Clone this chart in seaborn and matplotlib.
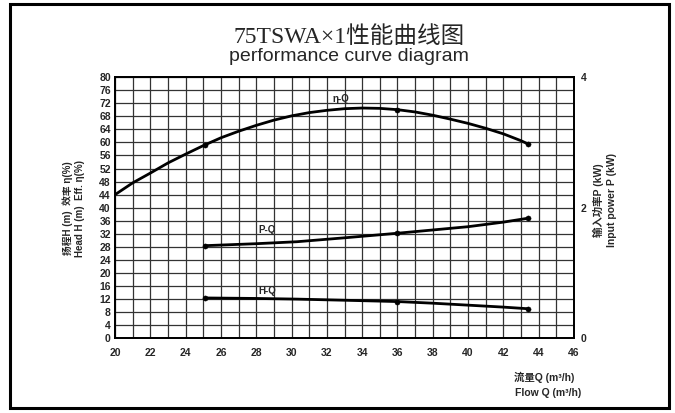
import matplotlib
matplotlib.use("Agg")
import matplotlib.pyplot as plt
import seaborn as sns
from matplotlib.patches import Rectangle

# values
q_eff = [20, 21, 22, 23, 24, 25, 26, 27, 28, 29, 30, 31, 32, 33, 34, 35, 36, 37, 38, 39, 40, 41, 42, 43, 43.4]
eff = [44.0, 47.6, 50.6, 53.7, 56.4, 59.0, 61.4, 63.4, 65.2, 66.8, 68.1, 69.1, 69.8, 70.3, 70.5, 70.4, 70.0, 69.3, 68.3, 67.1, 65.8, 64.3, 62.6, 60.5, 59.5]

q_pts = [25.1, 36, 43.4]
eff_pts = [59.2, 70.0, 59.5]

q_ph = [25.1, 28, 30.3, 33, 36, 38, 40, 42, 43.4]
power = [1.42, 1.45, 1.48, 1.54, 1.61, 1.66, 1.71, 1.78, 1.84]
head = [12.4, 12.25, 12.05, 11.7, 11.3, 10.8, 10.2, 9.6, 9.1]

power_pts = [1.42, 1.61, 1.84]
head_pts = [12.4, 11.3, 9.1]

x_ticks = list(range(20, 47))
x_labels = [str(v) if v % 2 == 0 else '' for v in x_ticks]
y_ticks = list(range(0, 81, 4))
p_ticks = [0, 2, 4]

sns.set_theme(style="white")
plt.rcParams['font.family'] = ['Liberation Sans', 'Noto Sans CJK SC', 'DejaVu Sans']
plt.rcParams['axes.unicode_minus'] = False

fig = plt.figure(figsize=(6.75, 4.13), dpi=100)
ax = fig.add_axes([0.1704, 0.1804, 0.68, 0.6332])
ax2 = ax.twinx()

grid_col = '#333333'
for v in x_ticks:
    ax.axvline(v, color=grid_col, lw=0.9, zorder=0)
for v in y_ticks:
    ax.axhline(v, color=grid_col, lw=0.9, zorder=0)

sns.lineplot(x=q_eff, y=eff, ax=ax, color='black', lw=2.0, sort=False)
sns.scatterplot(x=q_pts, y=eff_pts, ax=ax, color='black', s=14, edgecolor='black', zorder=5)
sns.lineplot(x=q_ph, y=head, ax=ax, color='black', lw=2.0, sort=False)
sns.scatterplot(x=q_pts, y=head_pts, ax=ax, color='black', s=14, edgecolor='black', zorder=5)

sns.lineplot(x=q_ph, y=power, ax=ax2, color='black', lw=2.0, sort=False)
sns.scatterplot(x=q_pts, y=power_pts, ax=ax2, color='black', s=14, edgecolor='black', zorder=5)

ax.set_xlim(20, 46)
ax.set_ylim(0, 80)
ax2.set_ylim(0, 4)
ax.set_xticks(x_ticks)
ax.set_xticklabels(x_labels)
ax.set_yticks(y_ticks)
ax2.set_yticks(p_ticks)
ax.set_xlabel('')
ax.set_ylabel('')
ax2.set_ylabel('')

for a in (ax, ax2):
    a.tick_params(length=0, labelsize=7.5)
    for lab in a.get_xticklabels() + a.get_yticklabels():
        lab.set_fontweight('bold')
    for s in a.spines.values():
        s.set_color('black')
        s.set_linewidth(1.3)
ax.tick_params(axis='y', pad=3)
ax.tick_params(axis='x', pad=7)
ax2.tick_params(axis='y', pad=5)

ax.text(32.8, 73.3, 'η-Q', fontsize=7, fontweight='bold', ha='center', va='center')
ax.text(28.6, 33.2, 'P-Q', fontsize=7, fontweight='bold', ha='center', va='center')
ax.text(28.6, 14.6, 'H-Q', fontsize=7, fontweight='bold', ha='center', va='center')

fig.text(0.517, 0.910, '75TSWA×1性能曲线图', fontsize=17, ha='center', va='center',
         family=['Liberation Serif', 'Noto Sans CJK SC'])
fig.text(0.517, 0.862, 'performance curve diagram', fontsize=14, ha='center', va='center')

fig.text(0.100, 0.496, '扬程H (m)  效率 η(%)', fontsize=7, fontweight='bold',
         rotation=90, ha='center', va='center')
fig.text(0.119, 0.496, 'Head H (m)  Eff. η(%)', fontsize=7, fontweight='bold',
         rotation=90, ha='center', va='center')
fig.text(0.887, 0.515, '输入功率P (kW)', fontsize=7.5, fontweight='bold',
         rotation=90, ha='center', va='center')
fig.text(0.907, 0.515, 'Input power P (kW)', fontsize=7.5, fontweight='bold',
         rotation=90, ha='center', va='center')
fig.text(0.761, 0.087, '流量Q (m³/h)', fontsize=7.5, fontweight='bold', ha='left', va='center')
fig.text(0.763, 0.048, 'Flow Q (m³/h)', fontsize=7.5, fontweight='bold', ha='left', va='center')

fig.patches.append(Rectangle((0.0148, 0.012), 0.976, 0.978, transform=fig.transFigure,
                             fill=False, edgecolor='black', lw=2.2))

fig.savefig('out.png', dpi=100)
